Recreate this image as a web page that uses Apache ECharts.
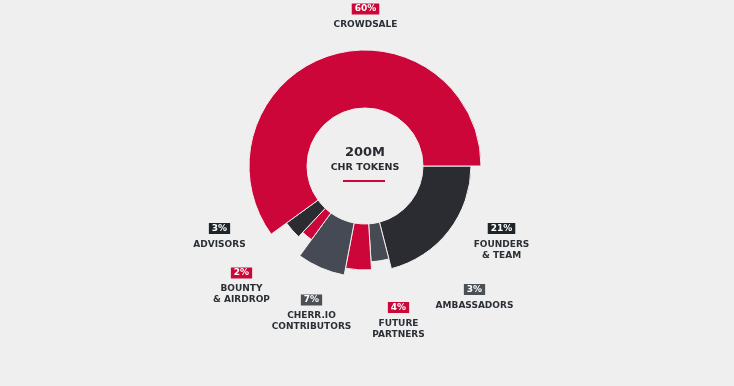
<!DOCTYPE html>
<html>
<head>
<meta charset="utf-8">
<script src="https://cdn.jsdelivr.net/npm/echarts@6/dist/echarts.min.js"></script>
<style>
html,body{margin:0;padding:0;background:#efefef;}
#c{width:734px;height:386px;}
</style>
</head>
<body>
<div id="c"></div>
<script>
// Data (clockwise from 3 o'clock)
var names = ['FOUNDERS\n& TEAM', 'AMBASSADORS', 'FUTURE\nPARTNERS', 'CHERR.IO\nCONTRIBUTORS', 'BOUNTY\n& AIRDROP', 'ADVISORS', 'CROWDSALE'];
var values = [21, 3, 4, 7, 2, 3, 60];
var centerTitle = '200M';
var centerSubtitle = 'CHR TOKENS';

// Styling
var sliceColors = ['#2b2c31', '#464b53', '#cc0638', '#454a55', '#cc0638', '#2b2c31', '#cc0638'];
var boxColors = ['#1e2529', '#4a5056', '#cc0638', '#4a5056', '#cc0638', '#1e2529', '#cc0638'];
var outerRadii = [106, 96, 104, 111, 91, 97, 116];
var labelPos = [[501.5, 228], [474.5, 289], [398.5, 307], [311.5, 299.5], [241.5, 272.5], [219.5, 228], [365.5, 8.5]];
var C = [365, 166], R0 = 58;
var FONT = 'DejaVu Sans';

var total = values.reduce(function(a, b){ return a + b; }, 0);

var series = values.map(function(v, k) {
  var data = values.map(function(val, i) {
    if (i === k) {
      return {
        name: names[i], value: val,
        itemStyle: { color: sliceColors[i], borderColor: '#efefef', borderWidth: 1 },
        label: { show: true }
      };
    }
    return { name: names[i], value: val, itemStyle: { color: 'rgba(0,0,0,0)', borderWidth: 0 }, label: { show: false } };
  });
  var pos = labelPos[k];
  return {
    type: 'pie',
    center: C,
    radius: [R0, outerRadii[k]],
    startAngle: 0,
    clockwise: true,
    silent: true,
    animation: false,
    avoidLabelOverlap: false,
    emphasis: { disabled: true },
    labelLine: { show: false },
    label: {
      show: false,
      position: 'outside',
      formatter: function(p) {
        var pct = Math.round(p.value / total * 100) + '%';
        var lines = p.name.split('\n');
        var s = '{pct|' + pct + '}\n{sp| }';
        for (var j = 0; j < lines.length; j++) s += '\n{n|' + lines[j] + '}';
        return s;
      },
      rich: {
        pct: { backgroundColor: boxColors[k], color: '#ffffff', fontFamily: FONT, fontWeight: 'bold', fontSize: 9, lineHeight: 10, padding: [1, 3, 1, 3] },
        sp: { fontSize: 4, lineHeight: 5.5 },
        n: { color: '#2b2f36', fontFamily: FONT, fontWeight: 'bold', fontSize: 9, lineHeight: 11 }
      }
    },
    labelLayout: function(params) {
      return { x: pos[0], y: pos[1] - 4.5, align: 'center', verticalAlign: 'top' };
    },
    data: data
  };
});

var chart = echarts.init(document.getElementById('c'));
chart.setOption({
  backgroundColor: '#efefef',
  series: series,
  graphic: [
    { type: 'text', style: { text: centerTitle, x: C[0], y: 153, align: 'center', verticalAlign: 'middle', fill: '#2b2c31', font: 'bold 13px "DejaVu Sans"' } },
    { type: 'text', style: { text: centerSubtitle, x: C[0], y: 167.5, align: 'center', verticalAlign: 'middle', fill: '#2b2c31', font: 'bold 9.5px "DejaVu Sans"' } },
    { type: 'rect', shape: { x: 343, y: 180, width: 42, height: 2 }, style: { fill: '#cc0638' } }
  ]
});
</script>
</body>
</html>
